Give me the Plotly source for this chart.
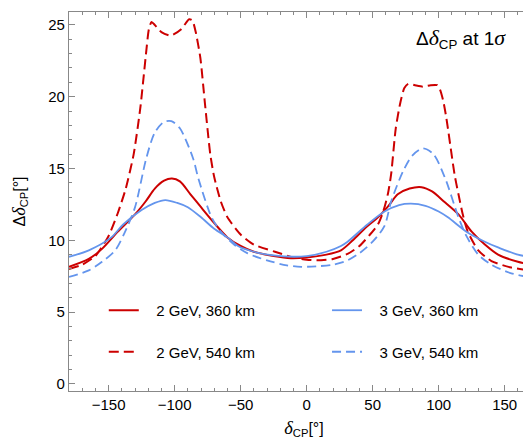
import plotly.graph_objects as go

# ---- data ----
x_red_360 = [-180, -165, -155, -143, -130, -122, -115, -108, -102, -96, -88, -80, -70, -60, -50, -40, -25, -12, 0, 15, 26, 35, 45, 54, 62, 69, 78, 87, 95, 104, 115, 125, 135, 145, 160, 176, 180]
y_red_360 = [8.15, 8.7, 9.4, 10.6, 11.8, 12.7, 13.6, 14.15, 14.3, 14.1, 13.2, 12.3, 11.2, 10.2, 9.6, 9.2, 8.9, 8.75, 8.8, 9.0, 9.3, 10.0, 10.9, 11.6, 12.4, 13.2, 13.6, 13.7, 13.4, 12.7, 11.8, 10.6, 9.7, 9.0, 8.5, 8.2, 8.15]

x_blue_360 = [-180, -165, -148, -139, -125, -115, -107, -98, -90, -80, -70, -60, -52, -40, -25, -10, 0, 15, 26, 31, 46, 59, 70, 79, 90, 100, 107, 121, 135, 145, 160, 176, 180]
y_blue_360 = [8.85, 9.3, 10.2, 11.1, 12.1, 12.6, 12.8, 12.6, 12.3, 11.6, 10.8, 10.2, 9.6, 9.2, 8.95, 8.85, 8.9, 9.2, 9.6, 9.9, 11.1, 12.0, 12.45, 12.55, 12.4, 12.0, 11.6, 10.6, 9.9, 9.5, 9.0, 8.8, 8.85]

x_red_540 = [-180, -170, -160, -156, -150, -143, -137, -131, -126, -122, -119.5, -117.5, -115, -110, -103, -95, -89, -86.5, -84, -80.5, -77, -73, -70, -65, -60, -50, -40, -24, -10, 0, 8, 20, 31, 40, 48, 54, 58, 61.5, 64, 67.5, 71, 74, 77, 82, 88, 94, 99, 101, 103.5, 105.5, 107, 112, 115, 118, 122, 130, 140, 155, 176, 180]
y_red_540 = [8.0, 8.3, 8.9, 9.4, 10.3, 11.9, 13.6, 16.0, 19.2, 22.7, 24.7, 25.2, 25.0, 24.5, 24.25, 24.7, 25.4, 25.3, 24.5, 22.7, 19.5, 16.0, 14.4, 12.7, 11.6, 10.4, 9.7, 9.2, 8.8, 8.65, 8.6, 8.7, 9.05, 9.6, 10.4, 11.1, 12.0, 13.2, 14.6, 17.8, 19.6, 20.6, 20.9, 20.8, 20.7, 20.8, 20.8, 20.5, 19.7, 18.7, 17.8, 14.6, 13.2, 11.9, 10.6, 9.3, 8.55, 8.1, 7.85, 7.9]

x_blue_540 = [-180, -165, -155, -145, -138, -130, -121.5, -115, -108, -102.5, -96, -86, -82, -72, -65, -55, -45, -30, -15, -4, 10, 20, 31, 40, 50, 59, 64, 73, 80, 88, 96, 105, 115, 121, 130, 140, 155, 176, 180]
y_blue_540 = [7.45, 7.9, 8.5, 9.3, 10.5, 12.3, 15.7, 17.5, 18.25, 18.3, 17.8, 15.7, 14.3, 11.6, 10.6, 9.7, 9.1, 8.6, 8.25, 8.15, 8.2, 8.3, 8.6, 9.1, 9.9, 11.0, 12.7, 14.8, 15.9, 16.4, 16.0, 14.3, 11.6, 10.3, 9.0, 8.3, 7.7, 7.35, 7.4]

x_ticks = [-150, -100, -50, 0, 50, 100, 150]
x_tick_text = ["\u2212150", "\u2212100", "\u221250", "0", "50", "100", "150"]
y_ticks = [0, 5, 10, 15, 20, 25]

RED = "#cc0000"
BLUE = "#6495ed"
GREEK = "<span style='font-family:Liberation Serif;font-size:1.15em'><i>{}</i></span>"
DELTA = GREEK.format("\u03b4")
SIGMA = GREEK.format("\u03c3")
PAD = "\u00a0\u00a0\u00a0"

fig = go.Figure()
fig.add_trace(go.Scatter(x=x_red_360, y=y_red_360, mode="lines", name=PAD + "2 GeV, 360 km",
                         line=dict(color=RED, width=2, shape="spline", smoothing=0.8),
                         legend="legend", legendgroup="a"))
fig.add_trace(go.Scatter(x=x_red_540, y=y_red_540, mode="lines", name=PAD + "2 GeV, 540 km",
                         line=dict(color=RED, width=2, dash="10px,5px", shape="spline", smoothing=0.6),
                         legend="legend", legendgroup="b"))
fig.add_trace(go.Scatter(x=x_blue_360, y=y_blue_360, mode="lines", name=PAD + "3 GeV, 360 km",
                         line=dict(color=BLUE, width=1.8, shape="spline", smoothing=0.8),
                         legend="legend2", legendgroup="c"))
fig.add_trace(go.Scatter(x=x_blue_540, y=y_blue_540, mode="lines", name=PAD + "3 GeV, 540 km",
                         line=dict(color=BLUE, width=1.8, dash="9px,5px", shape="spline", smoothing=0.8),
                         legend="legend2", legendgroup="d"))

axis_common = dict(showline=True, linecolor="#888888", linewidth=1.3, ticks="inside",
                   tickcolor="#888888", ticklen=6, tickwidth=1, showgrid=False, zeroline=False,
                   automargin=False,
                   tickfont=dict(family="Liberation Sans", size=15, color="black"))

fig.update_xaxes(range=[-180, 176], tickvals=x_ticks, ticktext=x_tick_text,
                 mirror="ticks",
                 minor=dict(ticks="inside", dtick=10, ticklen=3, tickcolor="#888888"),
                 title=dict(text=DELTA + "<sub>CP</sub>[°]",
                            font=dict(family="Liberation Sans", size=16, color="black"), standoff=10),
                 **axis_common)
fig.update_yaxes(range=[-0.5, 25.9], tickvals=y_ticks,
                 minor=dict(ticks="inside", dtick=1, ticklen=3, tickcolor="#888888"),
                 title=dict(text="\u0394" + DELTA + "<sub>CP</sub>[°]",
                            font=dict(family="Liberation Sans", size=16, color="black"), standoff=18),
                 **axis_common)

legend_common = dict(font=dict(family="Liberation Sans", size=15, color="black"),
                     bgcolor="rgba(0,0,0,0)", tracegroupgap=19, itemwidth=30,
                     xanchor="left", yanchor="top", traceorder="grouped")
fig.update_layout(
    width=531, height=441,
    margin=dict(l=61, r=0, t=4, b=58, autoexpand=False),
    plot_bgcolor="white", paper_bgcolor="white",
    legend=dict(x=0.074, y=0.256, **legend_common),
    legend2=dict(x=0.549, y=0.256, **legend_common),
    annotations=[dict(text="\u0394" + DELTA + "<sub>CP</sub> at 1" + SIGMA,
                      x=0.935, y=0.968, xref="paper", yref="paper", xanchor="right", yanchor="top",
                      showarrow=False, font=dict(family="Liberation Sans", size=19, color="black"))],
)

fig.write_html("out.html")
